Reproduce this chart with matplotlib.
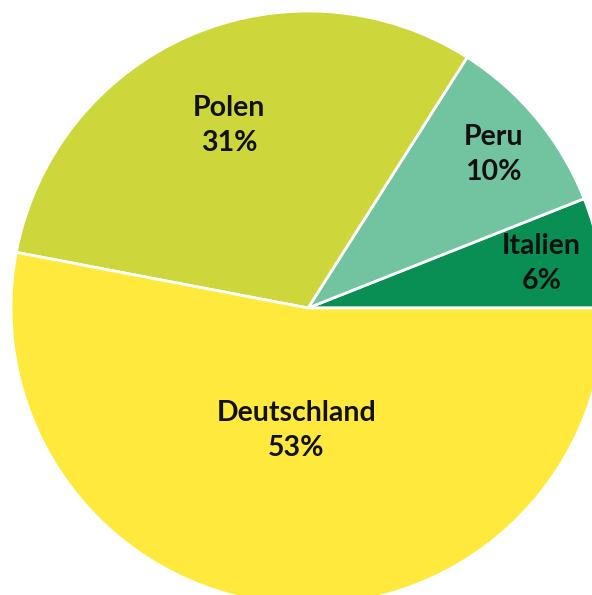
import numpy as np
import matplotlib
matplotlib.use("Agg")
from matplotlib import pyplot as plt

# Data
countries = ["Italien", "Peru", "Polen", "Deutschland"]
shares = [6, 10, 31, 53]

# Style
colors = ["#098F53", "#72C4A0", "#CDD63A", "#FFE93C"]
label_dist = [0.80, 0.81, 0.67, 0.415]

W, H = 592, 595
cx, cy = 308, 308      # pie centre in pixels (from top-left)
R = 297

fig = plt.figure(figsize=(W / 100, H / 100), dpi=100)
ax = fig.add_axes([0, 0, 1, 1])

wedges, _ = ax.pie(shares, colors=colors, startangle=0, counterclock=True,
                   radius=R, frame=True,
                   wedgeprops=dict(edgecolor="white", linewidth=2))
ax.set_xlim(-cx, W - cx)
ax.set_ylim(-(H - cy), cy)
ax.set_aspect("auto")
ax.set_axis_off()

for w, name, val, d in zip(wedges, countries, shares, label_dist):
    mid = np.deg2rad((w.theta1 + w.theta2) / 2)
    ax.text(d * R * np.cos(mid), d * R * np.sin(mid), f"{name}\n{val}%",
            ha="center", va="center", fontsize=20.5, fontweight="bold",
            family="Lato", color="#111111", linespacing=1.45)

fig.savefig("out.png", dpi=100)
